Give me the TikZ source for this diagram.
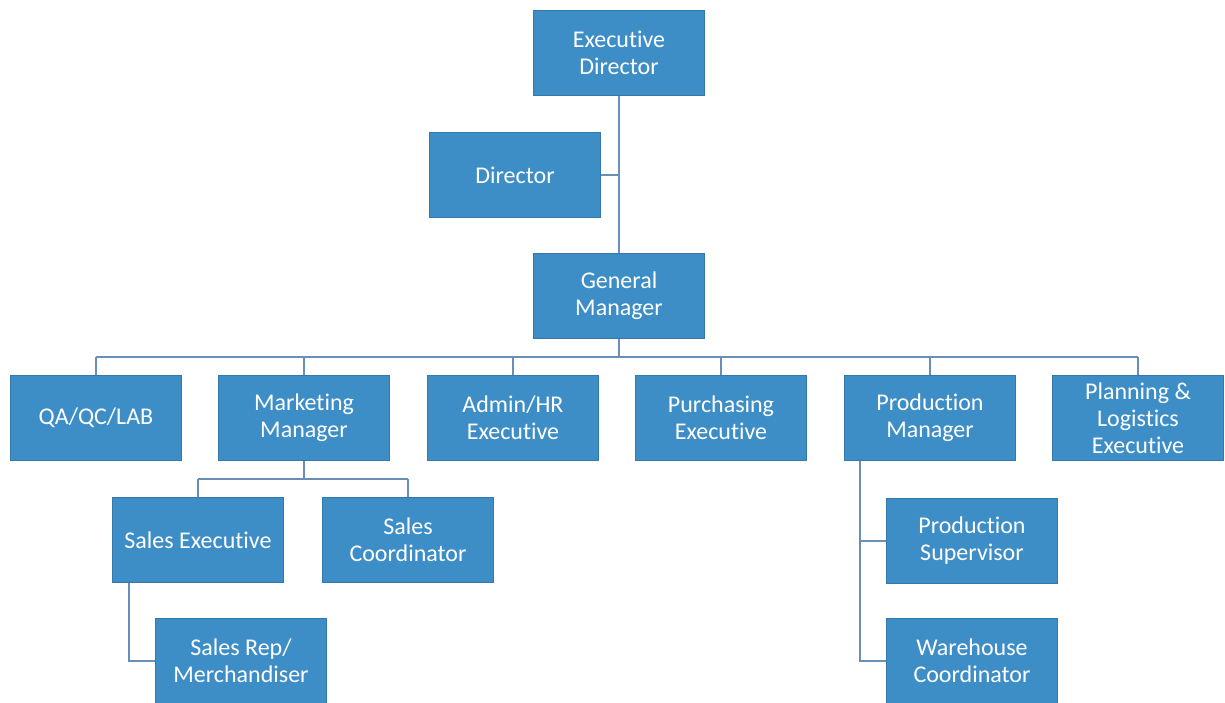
\documentclass[tikz,border=0pt]{standalone}
\usepackage{fontspec}
\setmainfont[Ligatures=NoCommon]{Carlito}
\usepackage{tikz}
\definecolor{boxblue}{RGB}{61,142,199}
\definecolor{linkblue}{RGB}{104,143,184}

\begin{document}
\begin{tikzpicture}[x=1pt,y=-1pt,
    post/.style={fill=boxblue,draw=boxblue!85!black,line width=0.6pt,text=white,
                 minimum width=171pt,minimum height=85pt,align=center,
                 font=\fontsize{24}{27}\selectfont},
    link/.style={draw=linkblue,line width=1.6pt}]
    \useasboundingbox (0,0) rectangle (1225,703);
    % top of the chart
    \node[post] (exec) at (619,53) {Executive\\Director};
    \node[post] (dir) at (515,175) {Director};
    \node[post] (gm) at (619,296) {General\\Manager};
    % second row
    \foreach \name/\x/\txt in {qa/96/{QA/QC/LAB}, mkt/304/{Marketing\\Manager},
            adm/513/{Admin/HR\\Executive}, pur/721/{Purchasing\\Executive},
            prod/930/{Production\\Manager}, plan/1138/{Planning \&\\Logistics\\Executive}}
        \node[post] (\name) at (\x,418) {\txt};
    % under marketing and production
    \node[post] (sexe) at (198,540) {Sales Executive};
    \node[post] (scoo) at (408,540) {Sales\\Coordinator};
    \node[post] (srep) at (241,661) {Sales Rep/\\Merchandiser};
    \node[post] (psup) at (972,541) {Production\\Supervisor};
    \node[post] (ware) at (972,661) {Warehouse\\Coordinator};
    % connectors
    \draw[link] (exec.south) -- (gm.north);
    \draw[link] (dir.east) -- (dir.east -| exec.south);
    \draw[link] (gm.south) -- ++(0,18) coordinate (bus);
    \draw[link] (bus -| qa.north) -- (bus -| plan.north);
    \foreach \name in {qa, mkt, adm, pur, prod, plan}
        \draw[link] (bus -| \name.north) -- (\name.north);
    \draw[link] (mkt.south) -- ++(0,18) coordinate (sbus);
    \draw[link] (sbus -| sexe.north) -- (sbus -| scoo.north);
    \draw[link] (sbus -| sexe.north) -- (sexe.north);
    \draw[link] (sbus -| scoo.north) -- (scoo.north);
    \draw[link] ([xshift=17pt]sexe.south west) |- (srep.west);
    \draw[link] ([xshift=16pt]prod.south west) |- (psup.west);
    \draw[link] ([xshift=16pt]prod.south west) |- (ware.west);
\end{tikzpicture}
\end{document}
